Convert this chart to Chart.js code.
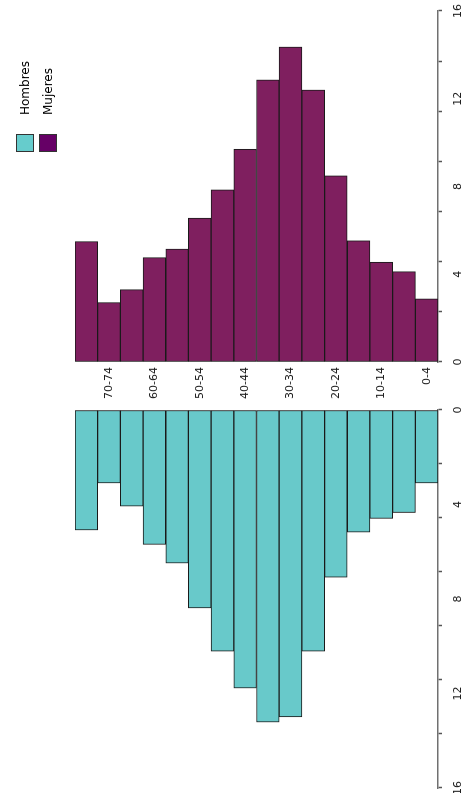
<!DOCTYPE html>
<html>
<head>
<meta charset="utf-8">
<script src="https://cdn.jsdelivr.net/npm/chart.js@4.4.1/dist/chart.umd.min.js"></script>
<style>
  html, body { margin: 0; padding: 0; background: #fff; overflow: hidden; }
  /* the whole pyramid is drawn lying down and turned a quarter to the left */
  #frame { position: absolute; left: 0; top: 0; width: 793px; height: 466px;
           transform-origin: 0 0; transform: translateY(793px) rotate(-90deg); }
  #menChart { position: absolute; left: -20px; top: 0; }
  #womenChart { position: absolute; left: 388px; top: 0; }
  .item { position: absolute; left: 641px; height: 17px; display: flex; align-items: center;
          font: 12px "DejaVu Sans", sans-serif; color: #000; white-space: nowrap; }
  .item span.box { width: 16px; height: 16px; border: 1px solid #333; margin-right: 19px; }
</style>
</head>
<body>
<div id="frame">
  <canvas id="menChart" width="408" height="466"></canvas>
  <canvas id="womenChart" width="405" height="466"></canvas>
  <div id="legend"></div>
</div>
<script>
const ageGroups = ['75+', '70-74', '65-69', '60-64', '55-59', '50-54', '45-49', '40-44',
                   '35-39', '30-34', '25-29', '20-24', '15-19', '10-14', '5-9', '0-4'];
const menValues = [5.08, 3.09, 4.07, 5.69, 6.48, 8.38, 10.21, 11.77,
                   13.21, 12.99, 10.21, 7.08, 5.17, 4.59, 4.34, 3.09];
const womenValues = [5.49, 2.71, 3.30, 4.76, 5.15, 6.56, 7.85, 9.70,
                     12.86, 14.36, 12.40, 8.49, 5.53, 4.55, 4.12, 2.88];
const seriesNames = ['Hombres', 'Mujeres'];
const valueTicks = [0, 4, 8, 12, 16];
const tickMarkCount = 8;

const menColor = '#68c9ca';
const womenColor = '#7f1f5f';
const legendColors = ['#66cccc', '#660066'];
const font = { family: 'DejaVu Sans', size: 11 };

function valueAxis(reverse) {
    return {
        min: 0,
        max: 16,
        reverse: reverse,
        afterBuildTicks: (scale) => {
            const step = 16 / (tickMarkCount - 1);
            const ticks = valueTicks.map(v => ({ value: v, label: String(v), mark: false }));
            for (let i = 0; i < tickMarkCount; i++) {
                ticks.push({ value: i * step, label: '', mark: true });
            }
            scale.ticks = ticks;
        },
        afterFit: (scale) => { scale.height = 28; },
        border: { color: '#707070', width: 1.5 },
        grid: {
            drawOnChartArea: false,
            tickLength: 4,
            tickWidth: 1.5,
            tickColor: (c) => (c.tick && c.tick.mark) ? '#555' : 'rgba(0,0,0,0)'
        },
        ticks: {
            autoSkip: false,
            maxRotation: 0,
            padding: 10,
            color: '#222',
            font: font,
            callback: (value, index, ticks) => ticks[index].label
        }
    };
}

function barDataset(name, values, color) {
    return {
        label: name,
        data: values,
        backgroundColor: color,
        borderColor: '#1a1a1a',
        borderWidth: 1,
        borderSkipped: false,
        categoryPercentage: 1,
        barPercentage: 1
    };
}

new Chart(document.getElementById('menChart'), {
    type: 'bar',
    data: { labels: ageGroups, datasets: [barDataset(seriesNames[0], menValues, menColor)] },
    options: {
        indexAxis: 'y',
        responsive: false,
        animation: false,
        layout: { padding: { top: 75, left: 25, right: 5, bottom: 0 } },
        plugins: { legend: { display: false }, tooltip: { enabled: false } },
        scales: {
            x: valueAxis(true),
            y: { display: false }
        }
    }
});

new Chart(document.getElementById('womenChart'), {
    type: 'bar',
    data: { labels: ageGroups, datasets: [barDataset(seriesNames[1], womenValues, womenColor)] },
    options: {
        indexAxis: 'y',
        responsive: false,
        animation: false,
        layout: { padding: { top: 75, left: 0, right: 11, bottom: 0 } },
        plugins: { legend: { display: false }, tooltip: { enabled: false } },
        scales: {
            x: valueAxis(false),
            y: {
                afterFit: (scale) => { scale.width = 43; },
                grid: { display: false, drawTicks: false },
                border: { display: false },
                ticks: {
                    autoSkip: false,
                    padding: 5,
                    color: '#222',
                    font: font,
                    callback: (value, index) => index % 2 === 1 ? ageGroups[index] : ''
                }
            }
        }
    }
});

// legend, one row per series
const legend = document.getElementById('legend');
seriesNames.forEach((name, i) => {
    const item = document.createElement('div');
    item.className = 'item';
    item.style.top = (16 + i * 23) + 'px';
    item.innerHTML = '<span class="box" style="background:' + legendColors[i] + '"></span>' + name;
    legend.appendChild(item);
});
</script>
</body>
</html>
